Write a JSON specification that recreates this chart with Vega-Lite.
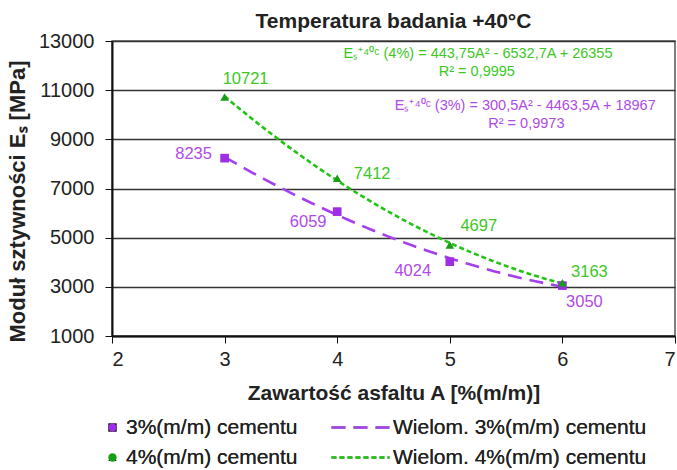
{
  "$schema": "https://vega.github.io/schema/vega-lite/v6.json",
  "width": 563,
  "height": 295,
  "autosize": {"type": "none"},
  "padding": {"left": 112, "top": 41, "right": 2, "bottom": 134},
  "background": "white",
  "config": {
    "font": "Liberation Sans",
    "view": {"stroke": "#555", "strokeWidth": 1.5}
  },
  "title": {
    "text": "Temperatura badania +40°C",
    "fontSize": 21,
    "fontWeight": "bold",
    "color": "#222",
    "anchor": "middle",
    "frame": "group",
    "baseline": "alphabetic",
    "offset": 4,
    "dy": 22
  },
  "datasets": {
    "pts": [
      {"A": 3, "E": 8235, "cement": "3%(m/m) cementu"},
      {"A": 4, "E": 6059, "cement": "3%(m/m) cementu"},
      {"A": 5, "E": 4024, "cement": "3%(m/m) cementu"},
      {"A": 6, "E": 3050, "cement": "3%(m/m) cementu"},
      {"A": 3, "E": 10721, "cement": "4%(m/m) cementu"},
      {"A": 4, "E": 7412, "cement": "4%(m/m) cementu"},
      {"A": 5, "E": 4697, "cement": "4%(m/m) cementu"},
      {"A": 6, "E": 3163, "cement": "4%(m/m) cementu"}
    ]
  },
  "data": {"name": "pts"},
  "encoding": {
    "x": {
      "field": "A",
      "type": "quantitative",
      "scale": {"domain": [2, 7], "nice": false},
      "axis": {
        "values": [2, 3, 4, 5, 6, 7],
        "format": "d",
        "grid": false,
        "domainColor": "#111",
        "domainWidth": 2,
        "tickColor": "#111",
        "tickSize": 7,
        "labelFontSize": 20,
        "labelColor": "#222",
        "labelPadding": 6,
        "title": "Zawartość asfaltu A [%(m/m)]",
        "titleFontSize": 21,
        "titleFontWeight": "bold",
        "titleColor": "#222",
        "titlePadding": 13
      }
    },
    "y": {
      "field": "E",
      "type": "quantitative",
      "scale": {"domain": [1000, 13000], "nice": false, "zero": false},
      "axis": {
        "values": [1000, 3000, 5000, 7000, 9000, 11000, 13000],
        "format": "d",
        "grid": true,
        "gridColor": "#333",
        "gridWidth": 1.3,
        "domainColor": "#111",
        "domainWidth": 2,
        "tickColor": "#111",
        "tickSize": 7,
        "labelFontSize": 20,
        "labelColor": "#222",
        "labelPadding": 11,
        "title": "Moduł sztywności Eₛ [MPa]",
        "titleFontSize": 22,
        "titleFontWeight": "bold",
        "titleColor": "#222",
        "titlePadding": 9,
        "titleY": 160
      }
    }
  },
  "layer": [
    {
      "transform": [
        {"regression": "E", "on": "A", "groupby": ["cement"], "method": "poly", "order": 2, "extent": [3, 6]}
      ],
      "mark": {"type": "line", "strokeWidth": 2.6},
      "encoding": {
        "color": {
          "field": "cement",
          "type": "nominal",
          "scale": {"range": ["#a440ee", "#22c414"]},
          "legend": {
            "orient": "none",
            "legendX": 238,
            "legendY": 376,
            "title": null,
            "symbolType": "M-5,0H5",
            "symbolSize": 135,
            "symbolStrokeWidth": 2.6,
            "labelFontSize": 21,
            "labelColor": "#222",
            "labelOffset": 22,
            "labelLimit": 400,
            "rowPadding": 8,
            "labelExpr": "'Wielom. ' + datum.label",
            "encode": {"symbols": {"update": {"strokeDash": {"scale": "strokeDash", "field": "value"}}}}
          }
        },
        "strokeDash": {
          "field": "cement",
          "type": "nominal",
          "scale": {"range": [[14, 8], [5, 3]]},
          "legend": {
            "orient": "none",
            "legendX": 238,
            "legendY": 376,
            "title": null,
            "symbolType": "M-5,0H5",
            "symbolSize": 135,
            "symbolStrokeWidth": 2.6,
            "labelFontSize": 21,
            "labelColor": "#222",
            "labelOffset": 22,
            "labelLimit": 400,
            "rowPadding": 8,
            "labelExpr": "'Wielom. ' + datum.label",
            "encode": {"symbols": {"update": {"strokeDash": {"scale": "strokeDash", "field": "value"}}}}
          }
        }
      }
    },
    {
      "mark": {"type": "point", "filled": true, "opacity": 1},
      "encoding": {
        "color": {
          "field": "cement",
          "type": "nominal",
          "scale": {"range": ["#9d2ee6", "#169e16"]},
          "legend": {
            "orient": "none",
            "legendX": -10,
            "legendY": 376,
            "title": null,
            "symbolSize": 70,
            "labelFontSize": 21,
            "labelColor": "#222",
            "labelOffset": 3,
            "labelLimit": 400,
            "rowPadding": 8
          }
        },
        "shape": {
          "field": "cement",
          "type": "nominal",
          "scale": {"range": ["square", "triangle-up"]},
          "legend": {
            "orient": "none",
            "legendX": -10,
            "legendY": 376,
            "title": null,
            "symbolSize": 70,
            "labelFontSize": 21,
            "labelColor": "#222",
            "labelOffset": 3,
            "labelLimit": 400,
            "rowPadding": 8
          }
        },
        "size": {"value": 75}
      }
    },
    {
      "transform": [{"filter": "datum.cement == '4%(m/m) cementu' && datum.A == 3"}],
      "mark": {"type": "text", "fontSize": 16.5, "color": "#3cc81e", "dx": 21, "dy": -18},
      "encoding": {"text": {"field": "E", "type": "quantitative", "format": "d"}}
    },
    {
      "transform": [{"filter": "datum.cement == '4%(m/m) cementu' && datum.A == 4"}],
      "mark": {"type": "text", "fontSize": 16.5, "color": "#3cc81e", "dx": 35, "dy": -4},
      "encoding": {"text": {"field": "E", "type": "quantitative", "format": "d"}}
    },
    {
      "transform": [{"filter": "datum.cement == '4%(m/m) cementu' && datum.A == 5"}],
      "mark": {"type": "text", "fontSize": 16.5, "color": "#3cc81e", "dx": 29, "dy": -19},
      "encoding": {"text": {"field": "E", "type": "quantitative", "format": "d"}}
    },
    {
      "transform": [{"filter": "datum.cement == '4%(m/m) cementu' && datum.A == 6"}],
      "mark": {"type": "text", "fontSize": 16.5, "color": "#3cc81e", "dx": 27, "dy": -11},
      "encoding": {"text": {"field": "E", "type": "quantitative", "format": "d"}}
    },
    {
      "transform": [{"filter": "datum.cement == '3%(m/m) cementu' && datum.A == 3"}],
      "mark": {"type": "text", "fontSize": 16.5, "color": "#b04ae8", "dx": -31, "dy": -4},
      "encoding": {"text": {"field": "E", "type": "quantitative", "format": "d"}}
    },
    {
      "transform": [{"filter": "datum.cement == '3%(m/m) cementu' && datum.A == 4"}],
      "mark": {"type": "text", "fontSize": 16.5, "color": "#b04ae8", "dx": -29, "dy": 10},
      "encoding": {"text": {"field": "E", "type": "quantitative", "format": "d"}}
    },
    {
      "transform": [{"filter": "datum.cement == '3%(m/m) cementu' && datum.A == 5"}],
      "mark": {"type": "text", "fontSize": 16.5, "color": "#b04ae8", "dx": -37, "dy": 9},
      "encoding": {"text": {"field": "E", "type": "quantitative", "format": "d"}}
    },
    {
      "transform": [{"filter": "datum.cement == '3%(m/m) cementu' && datum.A == 6"}],
      "mark": {"type": "text", "fontSize": 16.5, "color": "#b04ae8", "dx": 22, "dy": 16},
      "encoding": {"text": {"field": "E", "type": "quantitative", "format": "d"}}
    },
    {
      "transform": [{"filter": "datum.cement == '4%(m/m) cementu' && datum.A == 3"}],
      "mark": {"type": "text", "fontSize": 14.5, "fontWeight": "normal", "color": "#3cc81e"},
      "encoding": {
        "x": {"datum": 5.25},
        "y": {"datum": 12480},
        "text": {"value": "Eₛ⁺⁴⁰ᶜ (4%) = 443,75A² - 6532,7A + 26355"}
      }
    },
    {
      "transform": [{"filter": "datum.cement == '4%(m/m) cementu' && datum.A == 3"}],
      "mark": {"type": "text", "fontSize": 14.5, "fontWeight": "normal", "color": "#3cc81e"},
      "encoding": {
        "x": {"datum": 5.24},
        "y": {"datum": 11740},
        "text": {"value": "R² = 0,9995"}
      }
    },
    {
      "transform": [{"filter": "datum.cement == '3%(m/m) cementu' && datum.A == 3"}],
      "mark": {"type": "text", "fontSize": 14.5, "fontWeight": "normal", "color": "#b04ae8"},
      "encoding": {
        "x": {"datum": 5.67},
        "y": {"datum": 10360},
        "text": {"value": "Eₛ⁺⁴⁰ᶜ (3%) = 300,5A² - 4463,5A + 18967"}
      }
    },
    {
      "transform": [{"filter": "datum.cement == '3%(m/m) cementu' && datum.A == 3"}],
      "mark": {"type": "text", "fontSize": 14.5, "fontWeight": "normal", "color": "#b04ae8"},
      "encoding": {
        "x": {"datum": 5.68},
        "y": {"datum": 9620},
        "text": {"value": "R² = 0,9973"}
      }
    }
  ],
  "resolve": {"scale": {"color": "independent"}}
}
